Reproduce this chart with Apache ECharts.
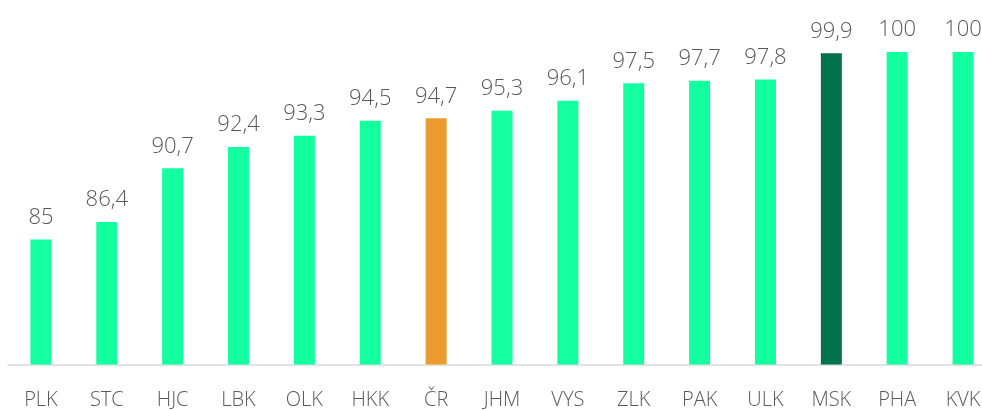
<!DOCTYPE html>
<html>
<head>
<meta charset="utf-8">
<script src="https://cdn.jsdelivr.net/npm/echarts@6/dist/echarts.min.js"></script>
<style>
  html, body { margin: 0; padding: 0; background: #fff; }
  #chart { width: 982px; height: 410px; }
</style>
</head>
<body>
<div id="chart"></div>
<script>
// Regions ordered by value, with the national average (ČR) highlighted
const categories = ['PLK', 'STC', 'HJC', 'LBK', 'OLK', 'HKK', 'ČR', 'JHM', 'VYS', 'ZLK', 'PAK', 'ULK', 'MSK', 'PHA', 'KVK'];
const values = [85, 86.4, 90.7, 92.4, 93.3, 94.5, 94.7, 95.3, 96.1, 97.5, 97.7, 97.8, 99.9, 100, 100];

const colorDefault = '#14FFA0';
const colorAverage = '#EC9B2F';
const colorHighlight = '#00734A';

function barColor(name) {
  if (name === 'ČR') return colorAverage;
  if (name === 'MSK') return colorHighlight;
  return colorDefault;
}

const chart = echarts.init(document.getElementById('chart'));
chart.setOption({
  animation: false,
  grid: {
    left: 8, width: 988, top: 52, bottom: 45.5,
    containLabel: false,
    outerBoundsMode: 'none'
  },
  xAxis: {
    type: 'category',
    data: categories,
    axisLine: { lineStyle: { color: '#d9d9d9', width: 1.5 } },
    axisTick: { show: false },
    axisLabel: {
      color: '#595959',
      fontFamily: 'Open Sans',
      fontWeight: 300,
      fontSize: 20,
      margin: 26,
      hideOverlap: false
    }
  },
  yAxis: {
    type: 'value',
    min: 75,
    max: 100,
    show: false,
    splitLine: { show: false }
  },
  series: [{
    type: 'bar',
    barWidth: 21,
    data: values.map((v, i) => ({
      value: v,
      itemStyle: { color: barColor(categories[i]) }
    })),
    label: {
      show: true,
      position: 'top',
      distance: 11,
      color: '#595959',
      fontFamily: 'Open Sans',
      fontWeight: 300,
      fontSize: 22,
      formatter: p => String(p.value).replace('.', ',')
    }
  }]
});
</script>
</body>
</html>
